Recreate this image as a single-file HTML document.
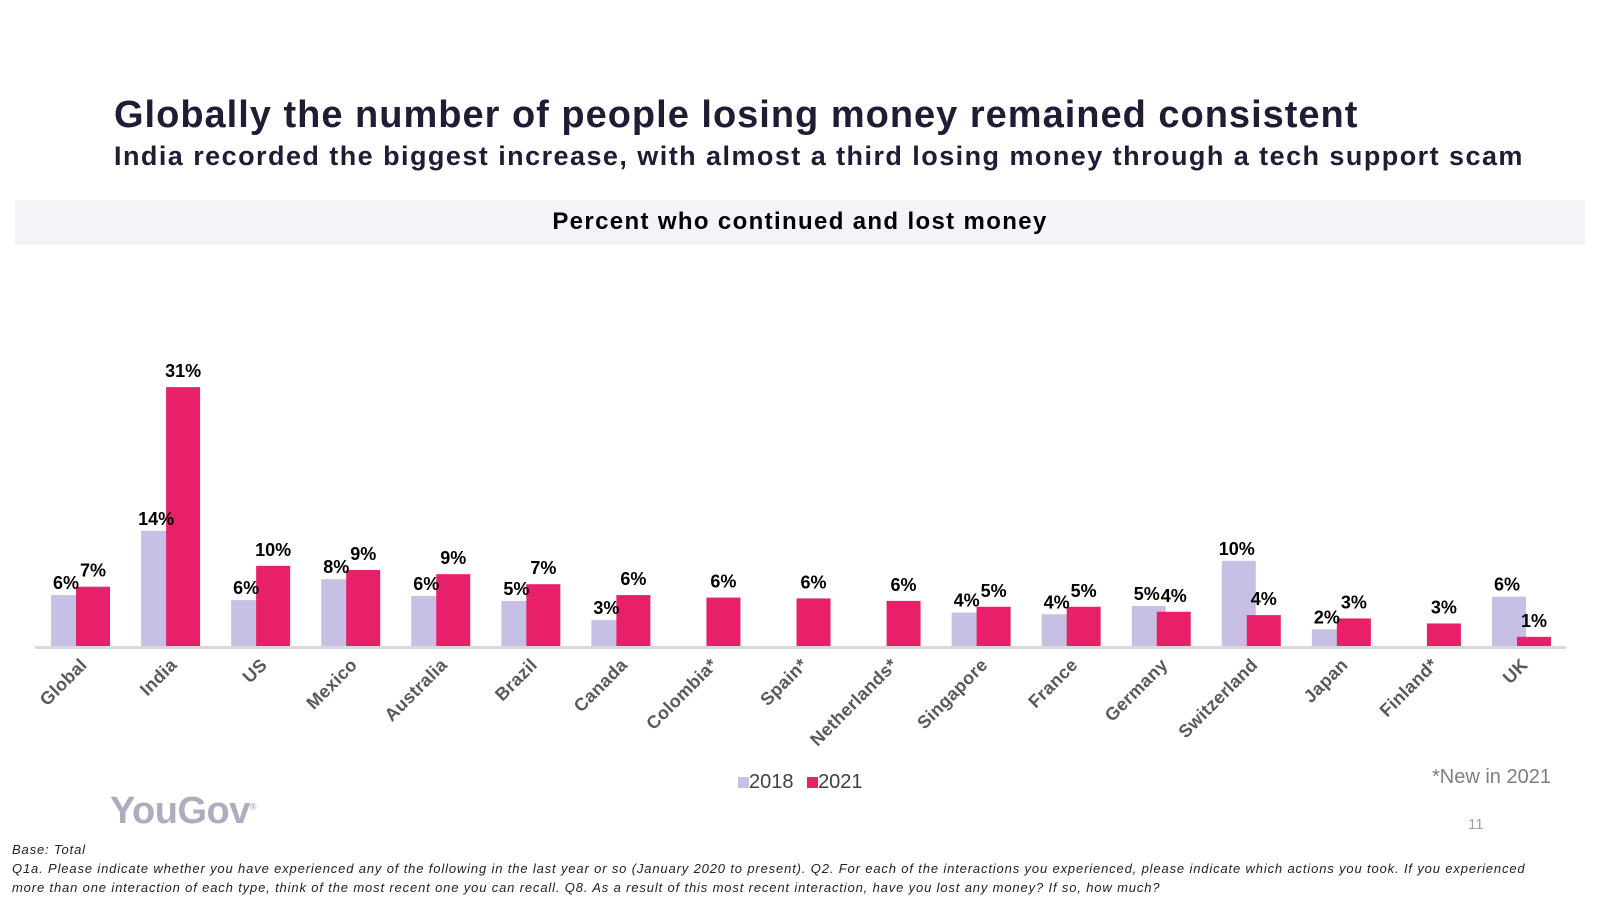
<!DOCTYPE html>
<html><head><meta charset="utf-8"><style>
body{margin:0;width:1600px;height:900px;background:#fff;overflow:hidden;font-family:"Liberation Sans",sans-serif;position:relative}
.a{position:absolute;white-space:nowrap}
</style></head><body>
<div class="a" style="left:114px;top:94px;font-size:38px;font-weight:bold;color:#1f1d33;letter-spacing:1px">Globally the number of people losing money remained consistent</div>
<div class="a" style="left:114px;top:141px;font-size:27px;font-weight:bold;color:#1f1d33;letter-spacing:1.45px">India recorded the biggest increase, with almost a third losing money through a tech support scam</div>
<div class="a" style="left:15px;top:200px;width:1570px;height:45px;background:#f3f3f8"></div>
<div class="a" style="left:0;width:1600px;text-align:center;top:208px;font-size:24px;font-weight:bold;color:#000;letter-spacing:1.35px">Percent who continued and lost money</div>
<svg class="a" style="left:0;top:0" width="1600" height="900" id="chart"></svg>
<div class="a" style="left:738px;top:771px;font-size:20px;color:#404040">
<span><span style="display:inline-block;width:11px;height:11px;background:#c8c0e4"></span>2018</span>
<span style="margin-left:8px"><span style="display:inline-block;width:11px;height:11px;background:#e8206a"></span>2021</span></div>
<div class="a" style="left:1432px;top:766px;font-size:20px;color:#7f7f7f">*New in 2021</div>
<div class="a" style="left:110px;top:790px;font-size:38px;font-weight:bold;color:#b0acbf;letter-spacing:-0.5px">YouGov<sup style="font-size:9px">®</sup></div>
<div class="a" style="left:1468px;top:816px;font-size:15px;color:#a0a0a0">11</div>
<div class="a" style="left:12px;top:840px;font-size:13px;font-style:italic;color:#222;line-height:19px;letter-spacing:0.85px">Base: Total<br>Q1a. Please indicate whether you have experienced any of the following in the last year or so (January 2020 to present). Q2. For each of the interactions you experienced, please indicate which actions you took. If you experienced<br>more than one interaction of each type, think of the most recent one you can recall. Q8. As a result of this most recent interaction, have you lost any money? If so, how much?</div>
<script>
const categories=["Global","India","US","Mexico","Australia","Brazil","Canada","Colombia*","Spain*","Netherlands*","Singapore","France","Germany","Switzerland","Japan","Finland*","UK"];
const values2018=[6.1,13.8,5.5,8.0,6.0,5.4,3.1,null,null,null,4.0,3.8,4.8,10.2,2.0,null,5.9];
const values2021=[7.1,31,9.6,9.1,8.6,7.4,6.1,5.8,5.7,5.4,4.7,4.7,4.1,3.7,3.3,2.7,1.1];
const labels2018=["6%","14%","6%","8%","6%","5%","3%","","","","4%","4%","5%","10%","2%","","6%"];
const labels2021=["7%","31%","10%","9%","9%","7%","6%","6%","6%","6%","5%","5%","4%","4%","3%","3%","1%"];
const svg=document.getElementById('chart');const NS='http://www.w3.org/2000/svg';
const x0=35,x1=1566,base=646,ppu=8.35,step=(x1-x0)/categories.length;
const xc=i=>x0+step*(i+0.5);const y=v=>base-v*ppu;
function mk(t,a){const e=document.createElementNS(NS,t);for(const k in a)e.setAttribute(k,a[k]);svg.appendChild(e);return e;}
categories.forEach((c,i)=>{
 const cx=xc(i);
 if(values2018[i]!=null){
  const r=mk('rect',{x:cx-29,y:y(values2018[i]),width:34,height:values2018[i]*ppu,fill:'#c8c0e4'});
  
  
 }
 const r2=mk('rect',{x:cx-4,y:y(values2021[i]),width:34,height:values2021[i]*ppu,fill:'#e8206a'});
 
 
 if(values2018[i]!=null){
  const t=mk('text',{x:cx-14,y:y(values2018[i])-6,'text-anchor':'middle','font-size':18,'font-weight':'bold',fill:'#000'});t.textContent=labels2018[i];
  
  
 }
 const t2=mk('text',{x:cx+13,y:y(values2021[i])-10,'text-anchor':'middle','font-size':18,'font-weight':'bold',fill:'#000'});t2.textContent=labels2021[i];
 
 
 const xl=mk('text',{x:cx+8,y:666,'text-anchor':'end','font-size':18,'font-weight':'bold','letter-spacing':0.3,fill:'#595959',transform:`rotate(-45 ${cx+8} 666)`});xl.textContent=c;
 
 
});
const ax=mk('line',{x1:x0,x2:x1,y1:base+1.5,y2:base+1.5,stroke:'#d9d9d9','stroke-width':3});


</script>
</body></html>
